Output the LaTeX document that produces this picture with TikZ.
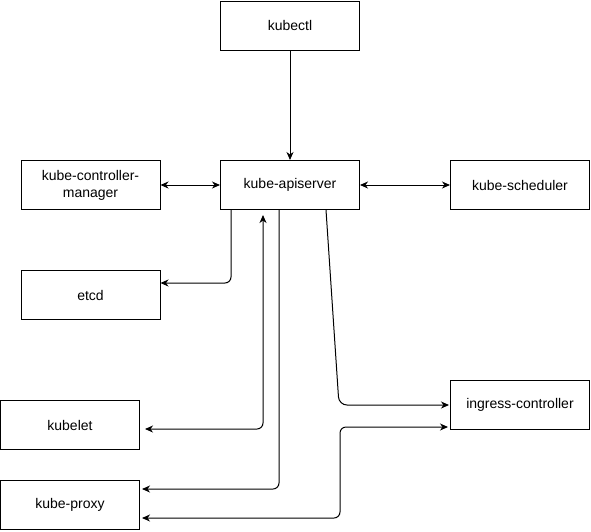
\documentclass[tikz,border=0pt]{standalone}
\usepackage{fontspec}
\setmainfont{Liberation Sans}
\usetikzlibrary{arrows.meta}

\tikzset{
  box/.style={draw, line width=1pt, minimum width=139pt, minimum height=49pt,
    align=center, font=\fontsize{14}{17}\selectfont},
  arr/.style={line width=1pt, -{Stealth[length=8pt,width=7pt,inset=2.5pt]}},
  both/.style={line width=1pt, {Stealth[length=8pt,width=7pt,inset=2.5pt]}-{Stealth[length=8pt,width=7pt,inset=2.5pt]}}
}

\begin{document}
\begin{tikzpicture}[x=1pt, y=-1pt]
        \useasboundingbox (0,0) rectangle (591,531);

        \node[box] (kubectl) at (290,25.5) {kubectl};
        \node[box] (ccm) at (90.5,185) {kube-controller-\\manager};
        \node[box] (api) at (290,185) {kube-apiserver};
        \node[box] (sched) at (520,185) {kube-scheduler};
        \node[box] (etcd) at (90.5,295) {etcd};
        \node[box] (ingress) at (520,405) {ingress-controller};
        \node[box] (kubelet) at (70,425) {kubelet};
        \node[box] (proxy) at (70,505) {kube-proxy};

        \draw[arr] (kubectl) -- (api);
        \draw[both] (ccm) -- (api);
        \draw[both] (api) -- (sched);
        \draw[arr, rounded corners=6pt] ([xshift=-59pt]api.south) |- ([yshift=12pt]etcd.east);
        \draw[both, rounded corners=6pt] ([xshift=5pt,yshift=-4pt]kubelet.east) -| ([xshift=-27pt,yshift=-5pt]api.south);
        \draw[arr, rounded corners=6pt] ([xshift=-11pt]api.south) |- ([xshift=2pt,yshift=16pt]proxy.east);
        \draw[arr, rounded corners=8pt] ([xshift=36pt]api.south) -- ([xshift=-111pt]ingress.west) -- ([xshift=-1pt]ingress.west);
        \draw[both, rounded corners=6pt] ([xshift=2pt,yshift=-13pt]proxy.east) -| ([xshift=-110pt,yshift=-22pt]ingress.west) -- ([xshift=-2pt,yshift=-22pt]ingress.west);
    \end{tikzpicture}
\end{document}
